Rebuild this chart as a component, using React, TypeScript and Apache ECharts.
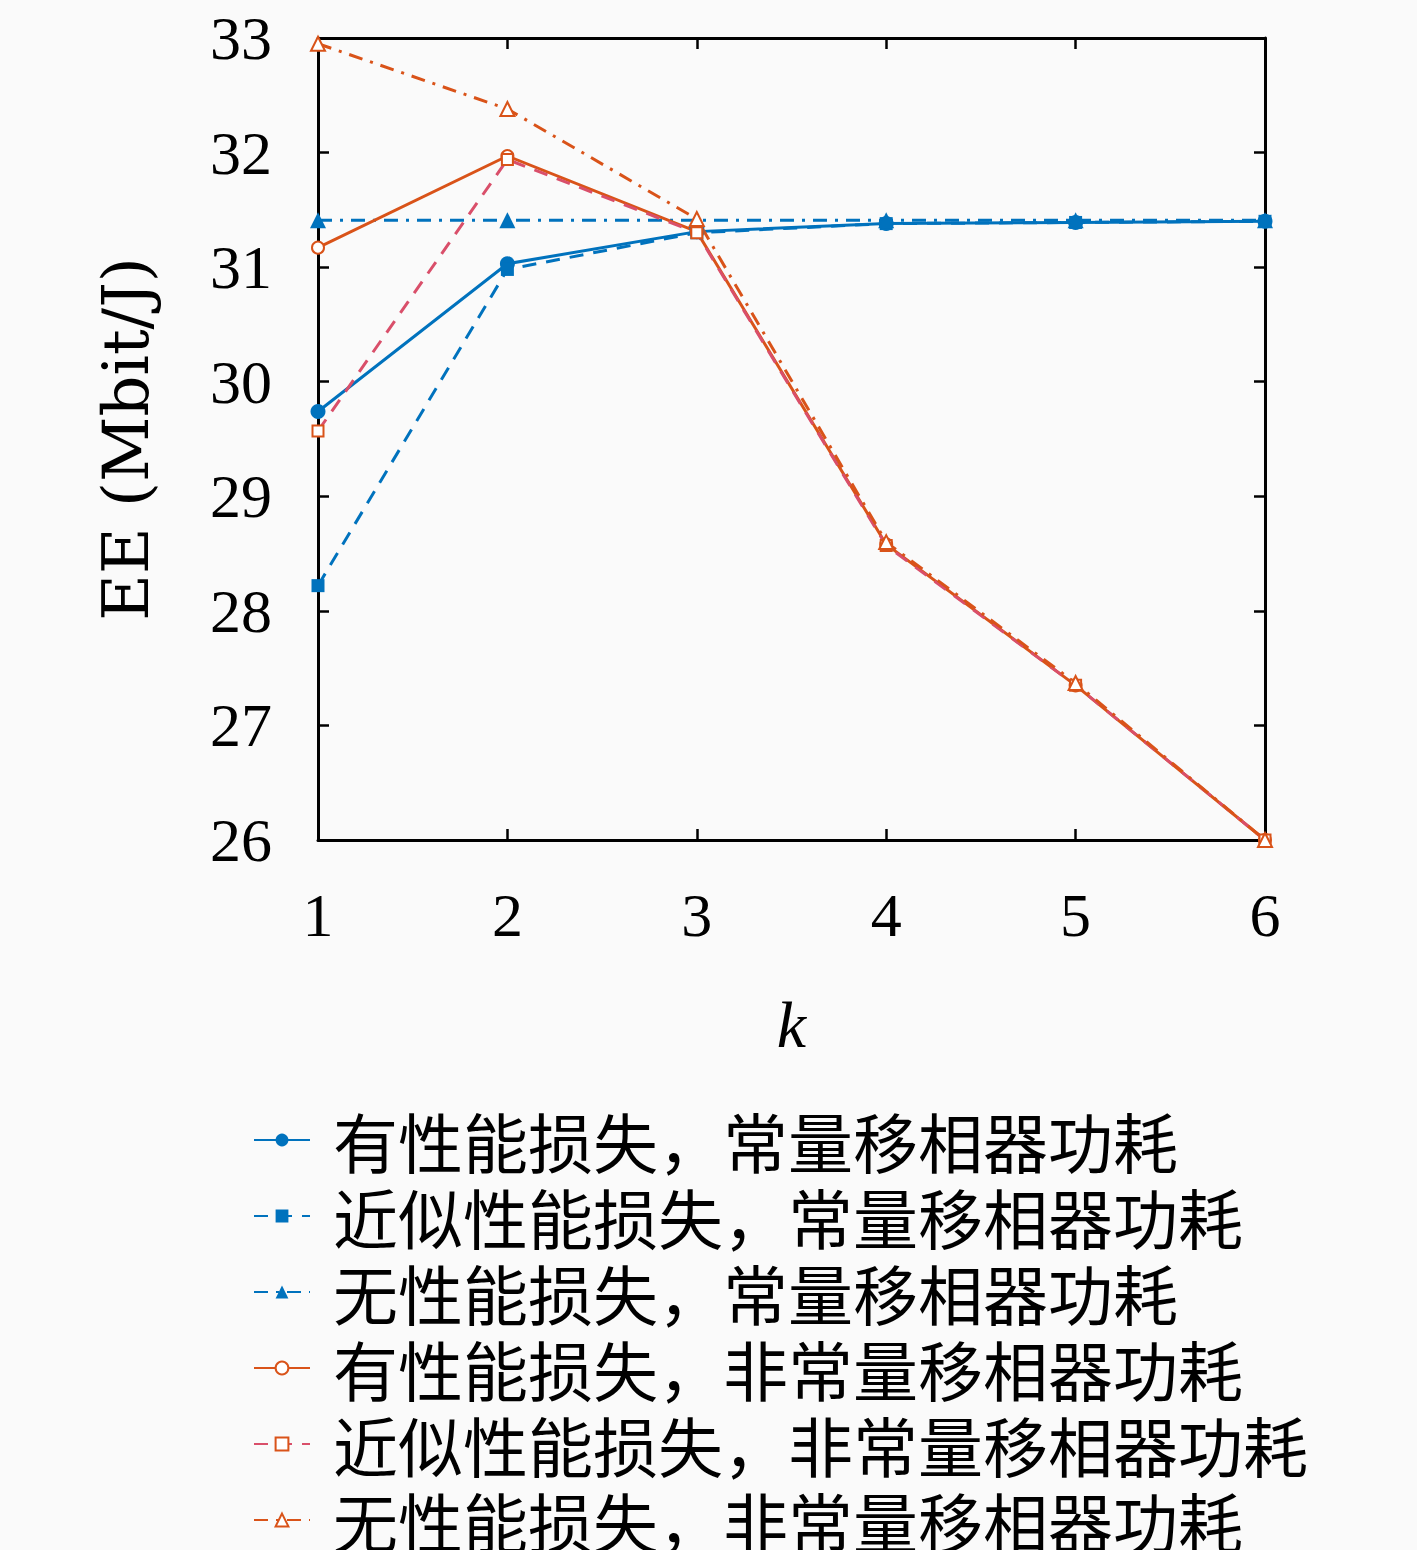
import React, { useEffect, useRef } from "react";
import * as echarts from "echarts";

const kValues = [1, 2, 3, 4, 5, 6];
const yTicks = [26, 27, 28, 29, 30, 31, 32, 33];

const names = [
  "有性能损失，常量移相器功耗",
  "近似性能损失，常量移相器功耗",
  "无性能损失，常量移相器功耗",
  "有性能损失，非常量移相器功耗",
  "近似性能损失，非常量移相器功耗",
  "无性能损失，非常量移相器功耗",
];

const lossConst = [29.74, 31.03, 31.31, 31.38, 31.39, 31.4];
const approxConst = [28.22, 30.98, 31.3, 31.38, 31.39, 31.4];
const noLossConst = [31.41, 31.41, 31.41, 31.41, 31.41, 31.41];
const lossVar = [31.17, 31.97, 31.31, 28.58, 27.35, 26.0];
const approxVar = [29.57, 31.94, 31.3, 28.57, 27.35, 26.0];
const noLossVar = [32.95, 32.38, 31.42, 28.6, 27.37, 26.0];

const BLUE = "#0072BD";
const ORANGE = "#D95319";
const PINK = "#D94F6A";

const pair = (vals: number[]) => kValues.map((k, i) => [k, vals[i]]);

export default function App() {
  const ref = useRef<HTMLDivElement>(null);
  useEffect(() => {
    if (!ref.current) return;
    const chart = echarts.init(ref.current, null, { renderer: "svg" });
    const serif = "Liberation Serif";
    const axisLine = { show: true, lineStyle: { color: "#000", width: 3 } };
    const tick = { show: true, inside: true, length: 11, lineStyle: { color: "#000", width: 2.5 } };
    const dash = [14, 10];
    const dashDot = [14, 8, 3, 8];
    const mk = (
      name: string,
      vals: number[],
      color: string,
      lineColor: string,
      symbol: string,
      size: number,
      type: any
    ) => ({
      name,
      type: "line",
      data: pair(vals),
      symbol,
      symbolSize: size,
      showSymbol: true,
      lineStyle: { color: lineColor, width: 3, type },
      itemStyle: {
        color,
        borderColor: color,
        borderWidth: symbol.startsWith("empty") ? 2.5 : 0,
      },
      emphasis: { disabled: true },
      z: 3,
    });
    chart.setOption({
      animation: false,
      backgroundColor: "#fafafa",
      grid: { left: 318, right: 152, top: 38, bottom: 710, containLabel: false },
      xAxis: [
        {
          type: "value",
          min: 1,
          max: 6,
          interval: 1,
          position: "bottom",
          axisLine,
          axisTick: tick,
          splitLine: { show: false },
          axisLabel: {
            fontFamily: serif,
            fontSize: 62,
            color: "#000",
            margin: 44,
            formatter: (v: number) => String(v),
          },
          name: "k",
          nameLocation: "middle",
          nameGap: 151,
          nameTextStyle: { fontFamily: serif, fontStyle: "italic", fontSize: 66, color: "#000" },
        },
        {
          type: "value",
          min: 1,
          max: 6,
          interval: 1,
          position: "top",
          axisLine,
          axisTick: tick,
          splitLine: { show: false },
          axisLabel: { show: false },
        },
      ],
      yAxis: [
        {
          type: "value",
          min: yTicks[0],
          max: yTicks[yTicks.length - 1],
          interval: 1,
          position: "left",
          axisLine,
          axisTick: tick,
          splitLine: { show: false },
          axisLabel: {
            fontFamily: serif,
            fontSize: 62,
            color: "#000",
            margin: 46,
          },
          name: "EE (Mbit/J)",
          nameLocation: "middle",
          nameGap: 160,
          nameRotate: 90,
          nameTextStyle: { fontFamily: "DejaVu Serif", fontSize: 64, color: "#000" },
        },
        {
          type: "value",
          min: yTicks[0],
          max: yTicks[yTicks.length - 1],
          interval: 1,
          position: "right",
          axisLine,
          axisTick: tick,
          splitLine: { show: false },
          axisLabel: { show: false },
        },
      ],
      legend: {
        orient: "vertical",
        left: 248,
        top: 1097,
        height: 1000,
        itemWidth: 56,
        itemHeight: 16,
        itemGap: 0,
        selectedMode: false,
        textStyle: {
          fontFamily: "Noto Sans CJK SC",
          fontSize: 65,
          color: "#000",
          lineHeight: 76,
          padding: [0, 0, 0, 18],
        },
        data: names,
      },
      series: [
        mk(names[0], lossConst, BLUE, BLUE, "circle", 15, "solid"),
        mk(names[1], approxConst, BLUE, BLUE, "rect", 13, dash),
        mk(names[2], noLossConst, BLUE, BLUE, "triangle", 16, dashDot),
        mk(names[3], lossVar, ORANGE, ORANGE, "emptyCircle", 12, "solid"),
        mk(names[4], approxVar, ORANGE, PINK, "emptyRect", 11, dash),
        mk(names[5], noLossVar, ORANGE, ORANGE, "emptyTriangle", 14, dashDot),
      ],
    });
    return () => chart.dispose();
  }, []);
  return (
    <div
      ref={ref}
      style={{ position: "absolute", left: 0, top: 0, width: 1417, height: 1550 }}
    />
  );
}
